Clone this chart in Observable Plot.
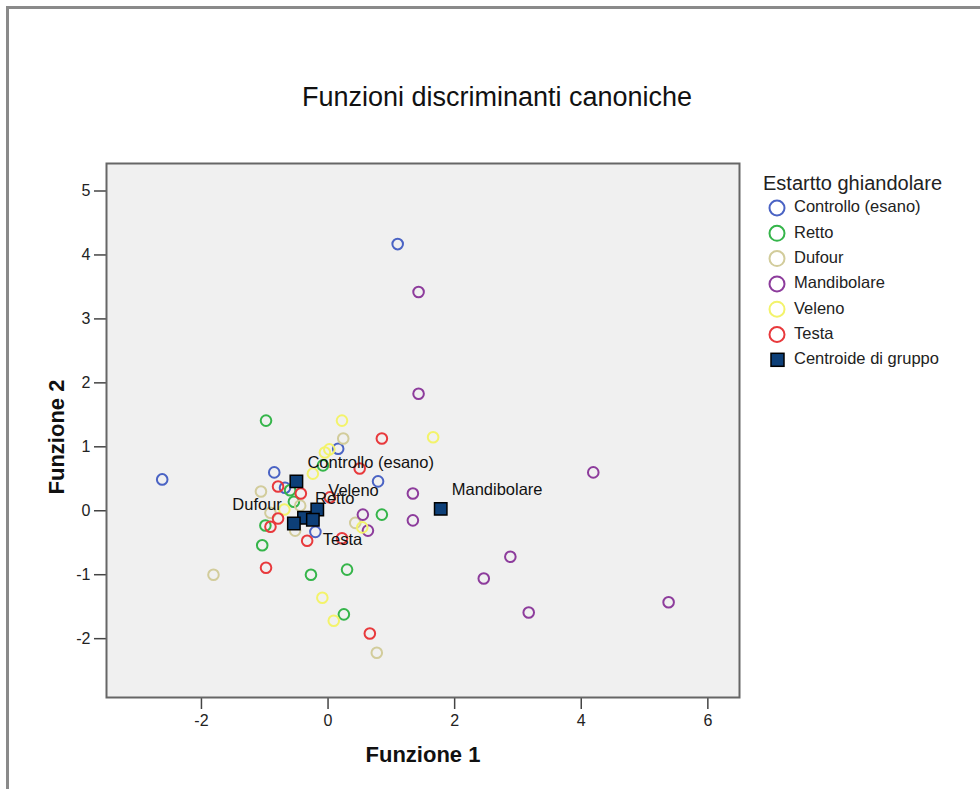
<!DOCTYPE html>
<html>
<head>
<meta charset="utf-8">
<script src="https://cdn.jsdelivr.net/npm/d3@7"></script>
<script src="https://cdn.jsdelivr.net/npm/@observablehq/plot@0.6"></script>
<style>
  body { margin: 0; background: #fff; font-family: "Liberation Sans", Arial, sans-serif; }
  #wrap { position: relative; width: 980px; height: 789px; overflow: hidden; background: #fff; }
  #wrap > svg.chart { position: absolute; left: 0; top: 0; }
  .txt { position: absolute; white-space: nowrap; color: #111; line-height: 1; }
  #title { left: 497px; top: 97px; transform: translate(-50%, -50%); font-size: 27px; }
  #xlab { left: 423px; top: 755px; transform: translate(-50%, -50%); font-size: 22px; font-weight: bold; }
  #ylab { left: 57px; top: 437px; transform: translate(-50%, -50%) rotate(-90deg); font-size: 22px; font-weight: bold; }
  #border { position: absolute; left: 6px; top: 6px; width: 990px; height: 800px; border-left: 3px solid #8a8a8a; border-top: 3px solid #8a8a8a; }
  #legend { position: absolute; left: 750px; top: 165px; }
</style>
</head>
<body>
<div id="wrap">
  <div id="border"></div>
  <div id="title" class="txt">Funzioni discriminanti canoniche</div>
  <div id="xlab" class="txt">Funzione 1</div>
  <div id="ylab" class="txt">Funzione 2</div>
</div>
<script>
// ---- Data ----
const groups = ["Controllo (esano)", "Retto", "Dufour", "Mandibolare", "Veleno", "Testa"];
const groupColors = ["#4a63c4", "#35b54a", "#d2cc9b", "#8d3c9c", "#f3f36b", "#e8393c"];
const legendTitle = "Estartto ghiandolare";
const centroidLegendLabel = "Centroide di gruppo";

const controlloX = [1.10, -2.62, -0.85, 0.16, 0.79, -0.68, -0.20];
const controlloY = [4.17, 0.49, 0.60, 0.97, 0.46, 0.36, -0.33];

const rettoX = [-0.98, -0.08, 0.85, -1.04, -0.27, 0.30, 0.25, -0.60, -0.54, -0.99];
const rettoY = [1.41, 0.71, -0.06, -0.54, -1.00, -0.92, -1.62, 0.32, 0.14, -0.23];

const dufourX = [-1.81, 0.77, -1.06, 0.24, 0.43, -0.52, -0.44, -0.91];
const dufourY = [-1.00, -2.22, 0.30, 1.13, -0.19, -0.31, 0.08, -0.03];

const mandibolareX = [1.43, 1.43, 4.19, 1.34, 1.34, 0.55, 0.63, 2.88, 2.46, 3.17, 5.38];
const mandibolareY = [3.42, 1.83, 0.60, 0.27, -0.15, -0.06, -0.31, -0.72, -1.06, -1.59, -1.43];

const velenoX = [0.22, 1.66, -0.05, -0.24, 0.54, -0.09, 0.09, -0.69, 0.02];
const velenoY = [1.41, 1.15, 0.91, 0.58, -0.26, -1.36, -1.72, 0.02, 0.96];

const testaX = [0.85, 0.50, -0.43, -0.79, -0.79, -0.91, -0.33, -0.98, 0.66, 0.22, 0.03];
const testaY = [1.13, 0.66, 0.27, 0.38, -0.12, -0.25, -0.47, -0.89, -1.92, -0.43, 0.21];

const centroidGroup = ["Controllo (esano)", "Veleno", "Retto", "Testa", "Dufour", "Mandibolare"];
const centroidX = [-0.50, -0.17, -0.38, -0.24, -0.54, 1.78];
const centroidY = [0.46, 0.02, -0.11, -0.14, -0.20, 0.03];

const xTicks = [-2, 0, 2, 4, 6];
const yTicks = [-2, -1, 0, 1, 2, 3, 4, 5];

// ---- Build tables ----
const seriesX = [controlloX, rettoX, dufourX, mandibolareX, velenoX, testaX];
const seriesY = [controlloY, rettoY, dufourY, mandibolareY, velenoY, testaY];
const points = [];
groups.forEach((g, i) => seriesX[i].forEach((x, j) => points.push({group: g, x, y: seriesY[i][j]})));
const centroids = centroidGroup.map((g, i) => ({group: g, x: centroidX[i], y: centroidY[i]}));

const aboveRight = centroids.filter(d => ["Controllo (esano)", "Veleno", "Retto", "Mandibolare"].includes(d.group));
const aboveLeft = centroids.filter(d => d.group === "Dufour");
const belowRight = centroids.filter(d => d.group === "Testa");

const labelFont = 16.5;
const fmt = d => String(d);

const chart = Plot.plot({
  width: 980,
  height: 789,
  marginLeft: 106,
  marginRight: 241,
  marginTop: 163,
  marginBottom: 92,
  style: {background: "transparent", fontFamily: "'Liberation Sans', Arial, sans-serif", fontSize: "16px", color: "#222", overflow: "visible"},
  x: {domain: [-3.5, 6.5]},
  y: {domain: [-2.92, 5.43]},
  color: {domain: groups, range: groupColors},
  marks: [
    Plot.frame({fill: "#f0f0f0", stroke: "none"}),
    Plot.axisX({ticks: xTicks, tickFormat: fmt, tickSize: 12, tickPadding: 5, label: null, stroke: "#444", strokeWidth: 1.5, fontSize: 16}),
    Plot.axisY({ticks: yTicks, tickFormat: fmt, tickSize: 12, tickPadding: 4, label: null, stroke: "#444", strokeWidth: 1.5, fontSize: 16}),
    Plot.frame({stroke: "#666", strokeWidth: 2}),
    Plot.dot(points, {x: "x", y: "y", stroke: "group", r: 5.3, strokeWidth: 2, fill: "none"}),
    Plot.dot(centroids, {x: "x", y: "y", symbol: "square", r: 7, fill: "#0d3f78", stroke: "#000", strokeWidth: 1.5}),
    Plot.text(aboveRight, {x: "x", y: "y", text: "group", dx: 11, dy: -19, textAnchor: "start", fontSize: labelFont, fill: "#111"}),
    Plot.text(aboveLeft, {x: "x", y: "y", text: "group", dx: -12, dy: -19, textAnchor: "end", fontSize: labelFont, fill: "#111"}),
    Plot.text(belowRight, {x: "x", y: "y", text: "group", dx: 10, dy: 20, textAnchor: "start", fontSize: labelFont, fill: "#111"})
  ]
});
chart.classList.add("chart");
document.getElementById("wrap").appendChild(chart);

// ---- Legend ----
const leg = d3.select("#wrap").append("svg").attr("id", "legend").attr("width", 225).attr("height", 210)
  .style("font-family", "'Liberation Sans', Arial, sans-serif");
leg.append("text").attr("x", 13).attr("y", 20).attr("dominant-baseline", "middle")
  .attr("font-size", 20).attr("fill", "#222").text(legendTitle);
groups.forEach((g, i) => {
  const cy = 43 + i * 25.3;
  leg.append("circle").attr("cx", 27).attr("cy", cy).attr("r", 7.5)
    .attr("fill", "none").attr("stroke", groupColors[i]).attr("stroke-width", 2);
  leg.append("text").attr("x", 44).attr("y", cy).attr("dominant-baseline", "middle")
    .attr("font-size", labelFont).attr("fill", "#222").text(g);
});
const cy = 43 + 6 * 25.3;
leg.append("rect").attr("x", 21).attr("y", cy - 6.5).attr("width", 13).attr("height", 13)
  .attr("fill", "#0d3f78").attr("stroke", "#000").attr("stroke-width", 1.5);
leg.append("text").attr("x", 44).attr("y", cy).attr("dominant-baseline", "middle")
  .attr("font-size", labelFont).attr("fill", "#222").text(centroidLegendLabel);
</script>
</body>
</html>
